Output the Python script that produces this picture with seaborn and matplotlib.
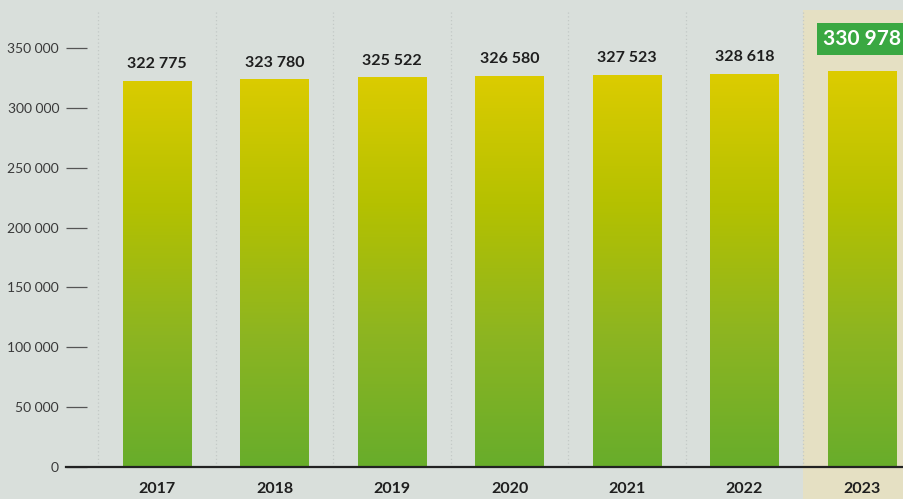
import matplotlib
matplotlib.use('Agg')
import matplotlib.pyplot as plt
import seaborn as sns
import numpy as np
import pandas as pd
from matplotlib.colors import LinearSegmentedColormap
from matplotlib.patches import Rectangle

years = ['2017', '2018', '2019', '2020', '2021', '2022', '2023']
values = [322775, 323780, 325522, 326580, 327523, 328618, 330978]
y_ticks = [0, 50000, 100000, 150000, 200000, 250000, 300000, 350000]

def fmt(v):
    return f"{v:,}".replace(",", " ")

sns.set_theme(style='white')
plt.rcParams['font.family'] = ['Lato', 'DejaVu Sans']

BG = '#d9dfdb'
fig = plt.figure(figsize=(9.04, 4.99), dpi=100, facecolor=BG)
W, H = 904, 499
ax = fig.add_axes([66 / W, (H - 467) / H, 1 - 66 / W, (467 - 10) / H])
ax.set_facecolor(BG)

df = pd.DataFrame({'year': years, 'value': values})
sns.barplot(data=df, x='year', y='value', ax=ax, width=0.58, color='#b5c100',
            saturation=1, zorder=3, errorbar=None)

ymax = 350000 * (467 - 10) / (467 - 48)
xlim = (-0.774, 6.357)

cmap = LinearSegmentedColormap.from_list('g', ['#68ad2b', '#8db521', '#b5c100', '#ddcc00'])
ref = 331000
for p in list(ax.patches):
    x0 = p.get_x()
    w = p.get_width()
    h = p.get_height()
    grad = np.linspace(0, h / ref, 256).reshape(-1, 1)
    im = ax.imshow(grad, extent=(x0, x0 + w, 0, h), aspect='auto', cmap=cmap,
                   origin='lower', vmin=0, vmax=1, zorder=3)
    im.set_clip_path(p)
    p.set_facecolor('none')
    p.set_edgecolor('none')

ax.set_xlim(*xlim)
ax.set_ylim(0, ymax)

# highlight band for 2023
ax.add_patch(Rectangle((5.5, -27000), 1.5, ymax + 27000, facecolor='#e5e0c3',
                       edgecolor='none', clip_on=False, zorder=0))

# dotted separators
for xb in np.arange(-0.5, 6, 1.0):
    ax.plot([xb, xb], [0, ymax], ls=(0, (1, 2)), color='#c3c9c6', lw=0.9, zorder=1)

# value labels
for i, v in enumerate(values):
    if i == len(values) - 1:
        ax.annotate(fmt(v), (i, v), xytext=(0, 23), textcoords='offset points',
                    ha='center', va='center', color='white', fontsize=15,
                    fontweight='bold', zorder=5,
                    bbox=dict(boxstyle='square,pad=0.3', fc='#3aa842', ec='none'))
    else:
        ax.annotate(fmt(v), (i, v), xytext=(0, 12), textcoords='offset points',
                    ha='center', va='center', color='#1e1e1e', fontsize=11.5,
                    fontweight='bold', zorder=5)

ax.set_yticks(y_ticks)
ax.set_yticklabels([fmt(t) for t in y_ticks])
ax.tick_params(axis='y', left=True, direction='in', length=15, width=0.9,
               color='#555555', pad=5, labelsize=10, labelcolor='#3a3a3a')
ax.tick_params(axis='x', bottom=False, length=0, pad=11, labelsize=11.5,
               labelcolor='#1e1e1e')
for lab in ax.get_xticklabels():
    lab.set_fontweight('bold')

ax.set_xlabel('')
ax.set_ylabel('')
for s in ['top', 'right', 'left']:
    ax.spines[s].set_visible(False)
ax.spines['bottom'].set_color('#222222')
ax.spines['bottom'].set_linewidth(1.6)
ax.spines['bottom'].set_zorder(6)

fig.savefig('out.png', dpi=100, facecolor=BG)
